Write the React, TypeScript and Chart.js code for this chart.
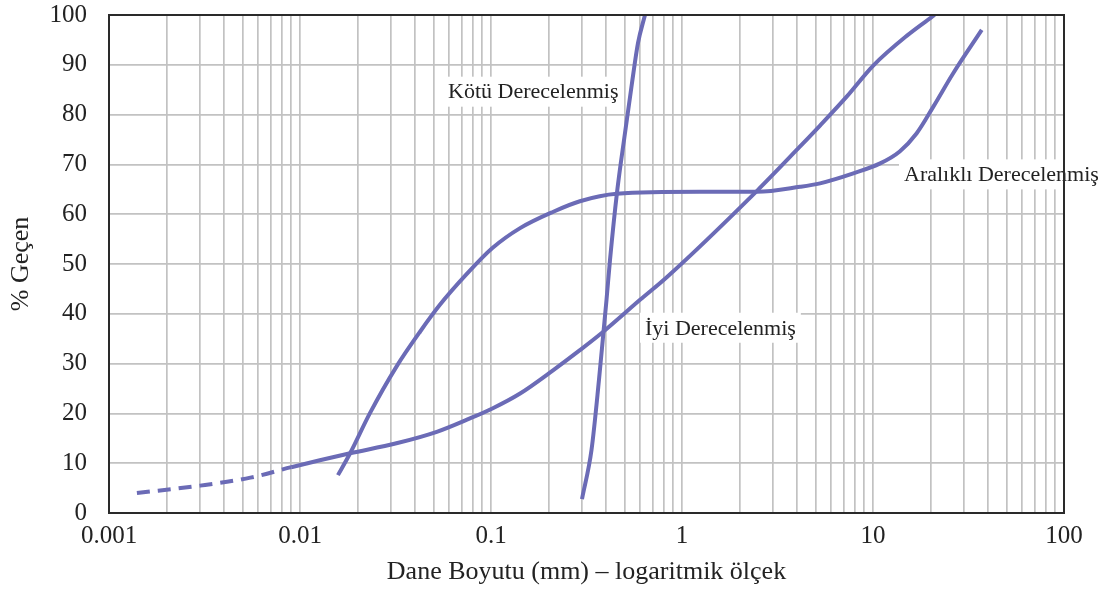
import React, { useEffect, useRef } from "react";
import { Chart, registerables } from "chart.js";

Chart.register(...registerables);

// ---- axis ticks ----
const xMajorTicks = [0.001, 0.01, 0.1, 1, 10, 100];
const xTickLabels = ["0.001", "0.01", "0.1", "1", "10", "100"];
const xMinorMultipliers = [1, 2, 3, 4, 5, 6, 7, 8, 9];
const yTickLabels = ["0", "10", "20", "30", "40", "50", "60", "70", "80", "90", "100"];

// ---- series: İyi Derecelenmiş (well graded) ----
const iyiSize = [0.0014, 0.003, 0.0055, 0.009, 0.0127, 0.0183, 0.032, 0.052, 0.0776, 0.1017, 0.142, 0.212, 0.292, 0.387, 0.603, 0.835, 2.47, 4.15, 5.28, 7.28, 10, 15, 21];
const iyiPass = [4.0, 5.5, 7.1, 9.2, 10.6, 12.0, 14.0, 16.3, 19.0, 21.0, 24.0, 28.7, 32.7, 36.4, 42.8, 47.4, 64.7, 73.6, 77.8, 83.6, 89.8, 95.8, 100];
const iyiDashedLastIndex = 3;

// ---- series: Kötü Derecelenmiş (poorly graded) ----
const kotuSize = [0.2995, 0.336, 0.3675, 0.388, 0.4025, 0.4198, 0.4566, 0.503, 0.547, 0.5885, 0.64];
const kotuPass = [2.8, 12.7, 26.7, 36.3, 42.8, 50.8, 64.3, 76.3, 86.3, 94.4, 100];

// ---- series: Aralıklı Derecelenmiş (gap graded) ----
const araSize = [0.0158, 0.0183, 0.0232, 0.032, 0.0425, 0.054, 0.0747, 0.1017, 0.142, 0.212, 0.292, 0.455, 1.24, 2.47, 4.15, 5.28, 7.89, 10.9, 13.8, 16.9, 20.7, 26.3, 37.1];
const araPass = [7.6, 12.0, 20.0, 29.4, 36.4, 41.8, 48.0, 53.2, 57.2, 60.5, 62.6, 64.1, 64.5, 64.5, 65.5, 66.2, 68.2, 70.2, 72.6, 76.2, 81.6, 88.3, 97.0];

// ---- in-plot annotations (anchored in data coordinates, left-middle) ----
const curveLabels = [
  { text: "Kötü Derecelenmiş", x: 0.0596, y: 84.6 },
  { text: "Aralıklı Derecelenmiş", x: 14.53, y: 68.0 },
  { text: "İyi Derecelenmiş", x: 0.64, y: 37.2 },
];

const LINE_COLOR = "#6b6bb6";
const FONT = "'Liberation Serif', 'Times New Roman', serif";

const xGridValues: number[] = [];
xMajorTicks.slice(0, -1).forEach((d) =>
  xMinorMultipliers.forEach((m) => xGridValues.push(parseFloat((d * m).toPrecision(6))))
);
xGridValues.push(xMajorTicks[xMajorTicks.length - 1]);

const toPoints = (xs: number[], ys: number[]) => xs.map((x, i) => ({ x, y: ys[i] }));

const overlayPlugin = {
  id: "overlay",
  afterDatasetsDraw(chart: any) {
    const { ctx, scales } = chart;
    ctx.save();
    ctx.font = `22px ${FONT}`;
    ctx.textBaseline = "middle";
    ctx.textAlign = "left";
    curveLabels.forEach((l) => {
      const px = scales.x.getPixelForValue(l.x);
      const py = scales.y.getPixelForValue(l.y);
      const w = ctx.measureText(l.text).width;
      ctx.fillStyle = "#ffffff";
      ctx.fillRect(px - 5, py - 15, w + 10, 30);
      ctx.fillStyle = "#222222";
      ctx.fillText(l.text, px, py + 1);
    });
    ctx.restore();
  },
  afterDraw(chart: any) {
    const { ctx, chartArea } = chart;
    ctx.save();
    ctx.strokeStyle = "#2a2a2a";
    ctx.lineWidth = 2;
    ctx.strokeRect(chartArea.left, chartArea.top, chartArea.right - chartArea.left, chartArea.bottom - chartArea.top);
    ctx.restore();
  },
};

export default function App() {
  const canvasRef = useRef<HTMLCanvasElement | null>(null);

  useEffect(() => {
    if (!canvasRef.current) return;
    const gridOpts = { color: "#c2c2c2", lineWidth: 1.7, drawTicks: false };
    const chart = new Chart(canvasRef.current, {
      type: "line",
      data: {
        datasets: [
          {
            label: "İyi Derecelenmiş",
            data: toPoints(iyiSize, iyiPass),
            borderColor: LINE_COLOR,
            borderWidth: 4,
            pointRadius: 0,
            fill: false,
            cubicInterpolationMode: "monotone",
            segment: {
              borderDash: (c: any) => (c.p1DataIndex <= iyiDashedLastIndex ? [13, 8] : undefined),
            },
          },
          {
            label: "Kötü Derecelenmiş",
            data: toPoints(kotuSize, kotuPass),
            borderColor: LINE_COLOR,
            borderWidth: 4,
            pointRadius: 0,
            fill: false,
            cubicInterpolationMode: "monotone",
          },
          {
            label: "Aralıklı Derecelenmiş",
            data: toPoints(araSize, araPass),
            borderColor: LINE_COLOR,
            borderWidth: 4,
            pointRadius: 0,
            fill: false,
            cubicInterpolationMode: "monotone",
          },
        ],
      },
      options: {
        animation: false,
        responsive: false,
        devicePixelRatio: 1,
        layout: { padding: { top: 15, right: 42, left: 0, bottom: 0 } },
        plugins: { legend: { display: false }, tooltip: { enabled: false } },
        scales: {
          x: {
            type: "logarithmic",
            position: "bottom",
            min: 0.001,
            max: 100,
            afterBuildTicks: (scale: any) => {
              scale.ticks = xGridValues.map((v) => ({ value: v }));
            },
            afterFit: (scale: any) => {
              scale.height = 79;
            },
            ticks: {
              autoSkip: false,
              maxRotation: 0,
              minRotation: 0,
              padding: 8,
              color: "#222222",
              font: { family: FONT, size: 25 },
              callback: (value: any) => {
                const v = Number(value);
                const i = xMajorTicks.findIndex((t) => Math.abs(t - v) < t * 1e-6);
                return i >= 0 ? xTickLabels[i] : "";
              },
            },
            grid: gridOpts,
            border: { display: false },
            title: {
              display: true,
              text: "Dane Boyutu (mm) – logaritmik ölçek",
              color: "#222222",
              font: { family: FONT, size: 26 },
              padding: { top: 0, bottom: 4 },
            },
          },
          y: {
            type: "linear",
            min: 0,
            max: 100,
            afterFit: (scale: any) => {
              scale.width = 109;
              scale.paddingTop = 0;
              scale.paddingBottom = 0;
            },
            ticks: {
              stepSize: 10,
              padding: 22,
              color: "#222222",
              font: { family: FONT, size: 25 },
              callback: (value: any) => yTickLabels[Math.round(Number(value) / 10)] ?? "",
            },
            grid: gridOpts,
            border: { display: false },
            title: {
              display: true,
              text: "% Geçen",
              color: "#222222",
              font: { family: FONT, size: 26 },
              padding: { top: 6, bottom: 0 },
            },
          },
        },
      },
      plugins: [overlayPlugin],
    } as any);
    return () => chart.destroy();
  }, []);

  return (
    <div style={{ position: "absolute", left: 0, top: 0, width: 1106, height: 592, background: "#fff" }}>
      <canvas ref={canvasRef} width={1106} height={592} style={{ display: "block" }} />
    </div>
  );
}
